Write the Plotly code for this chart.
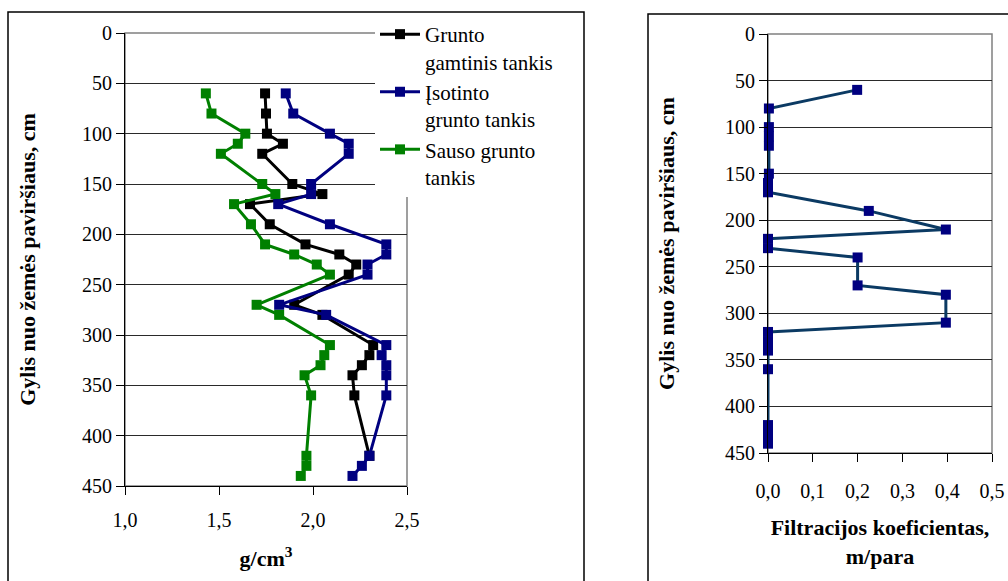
import plotly.graph_objects as go

# Depth profile of soil densities (left panel)
depth_natural = [60, 80, 100, 110, 120, 150, 160, 170, 190, 210, 220, 230, 240, 270, 280,
                 310, 320, 330, 340, 360, 420]
density_natural = [1.745, 1.75, 1.755, 1.84, 1.73, 1.89, 2.05, 1.665, 1.77, 1.96, 2.14, 2.23, 2.19,
                   1.90, 2.05, 2.32, 2.30, 2.26, 2.21, 2.22, 2.30]

depth_saturated = [60, 80, 100, 110, 120, 150, 160, 170, 190, 210, 220, 230, 240, 270, 280,
                   310, 320, 330, 340, 360, 420, 430, 440]
density_saturated = [1.855, 1.895, 2.09, 2.19, 2.19, 1.99, 1.99, 1.815, 2.09, 2.39, 2.39, 2.29, 2.29,
                     1.82, 2.07, 2.39, 2.365, 2.39, 2.39, 2.39, 2.30, 2.26, 2.21]

depth_dry = [60, 80, 100, 110, 120, 150, 160, 170, 190, 210, 220, 230, 240, 270, 280,
             310, 320, 330, 340, 360, 420, 430, 440]
density_dry = [1.43, 1.46, 1.64, 1.60, 1.51, 1.73, 1.80, 1.58, 1.67, 1.745, 1.90, 2.02, 2.09,
               1.70, 1.82, 2.09, 2.06, 2.04, 1.955, 1.99, 1.965, 1.965, 1.935]

# Filtration coefficient profile (right panel)
depth_filtr = [60, 80, 100, 110, 120, 150, 160, 170, 190, 210, 220, 230, 240, 270, 280, 310,
               320, 330, 340, 360, 420, 430, 440]
filtr_coef = [0.199, 0.002, 0.002, 0.002, 0.002, 0.002, 0.0, 0.0, 0.225, 0.397, 0.0, 0.0, 0.2,
              0.2, 0.397, 0.397, 0.0, 0.0, 0.0, 0.0, 0.0, 0.0, 0.0]

series_names = ["Grunto<br>gamtinis tankis", "Įsotinto<br>grunto tankis", "Sauso grunto<br>tankis"]
series_colors = ["#000000", "#000080", "#008000"]

W, H = 1008, 581
FONT = "Liberation Serif"


def px_x(v):
    return v / W


def px_y(v):
    return 1 - v / H


fig = go.Figure()

for name, color, d, v in zip(series_names, series_colors,
                             [depth_natural, depth_saturated, depth_dry],
                             [density_natural, density_saturated, density_dry]):
    fig.add_trace(go.Scatter(
        x=v, y=d, name=name, mode="lines+markers",
        line=dict(color=color, width=3),
        marker=dict(symbol="square", size=10, color=color),
        xaxis="x", yaxis="y", cliponaxis=False, legendgroup=name,
    ))

fig.add_trace(go.Scatter(
    x=filtr_coef, y=depth_filtr, mode="lines+markers", showlegend=False,
    line=dict(color="#0b3a63", width=3),
    marker=dict(symbol="square", size=10, color="#000080"),
    xaxis="x2", yaxis="y2", cliponaxis=False,
))

grid_col = "#2a2a2a"
tick_font = dict(family=FONT, size=20, color="#000000")
title_font = dict(family=FONT, size=22, color="#000000")

common_axis = dict(
    automargin=False, zeroline=False,
    showline=True, linecolor="#000000", linewidth=1,
    ticks="outside", ticklen=8, tickcolor="#000000",
    tickfont=tick_font,
)

fig.update_layout(
    template="none",
    width=W, height=H,
    margin=dict(l=0, r=0, t=0, b=0, pad=0),
    paper_bgcolor="white", plot_bgcolor="white",
    separators=",.",
    font=dict(family=FONT, color="#000000"),
    xaxis=dict(
        common_axis,
        domain=[px_x(125), px_x(407)], range=[1.0, 2.5], dtick=0.5, tick0=1.0,
        tickformat=".1f", showgrid=False, ticklabelstandoff=8,
        title=dict(text="<b>g/cm<sup>3</sup></b>", font=title_font, standoff=20),
        anchor="y",
    ),
    yaxis=dict(
        common_axis,
        domain=[px_y(486), px_y(33)], range=[450, 0], dtick=50, tick0=0,
        showgrid=True, gridcolor=grid_col, gridwidth=1,
        title=dict(text="<b>Gylis nuo žemės paviršiaus, cm</b>", font=title_font, standoff=40),
        anchor="x",
    ),
    xaxis2=dict(
        common_axis,
        domain=[px_x(768), px_x(992)], range=[0, 0.5], dtick=0.1, tick0=0,
        tickformat=".1f", showgrid=False, ticklabelstandoff=12,
        title=dict(text="<b>Filtracijos koeficientas,<br>m/para</b>", font=title_font, standoff=18),
        anchor="y2",
    ),
    yaxis2=dict(
        common_axis,
        domain=[px_y(453), px_y(34)], range=[450, 0], dtick=50, tick0=0,
        showgrid=True, gridcolor=grid_col, gridwidth=1,
        title=dict(text="<b>Gylis nuo žemės paviršiaus, cm</b>", font=title_font, standoff=44),
        anchor="x2",
    ),
    legend=dict(
        x=px_x(375), y=px_y(14), xanchor="left", yanchor="top",
        bgcolor="white", borderwidth=0,
        font=dict(family=FONT, size=21, color="#000000"),
        valign="top", tracegroupgap=0, itemwidth=40,
    ),
    shapes=[
        # gray plot-area borders
        dict(type="rect", xref="x domain", yref="y domain", x0=0, x1=1, y0=0, y1=1,
             line=dict(color="#808080", width=1.5), layer="below"),
        dict(type="rect", xref="x2 domain", yref="y2 domain", x0=0, x1=1, y0=0, y1=1,
             line=dict(color="#808080", width=1.5), layer="below"),
        # panel frames
        dict(type="rect", xref="paper", yref="paper",
             x0=px_x(8), x1=px_x(584), y0=px_y(600), y1=px_y(12),
             line=dict(color="#000000", width=1.5)),
        dict(type="rect", xref="paper", yref="paper",
             x0=px_x(648), x1=px_x(1030), y0=px_y(600), y1=px_y(14),
             line=dict(color="#000000", width=1.5)),
    ],
)

fig.write_html("out.html")
